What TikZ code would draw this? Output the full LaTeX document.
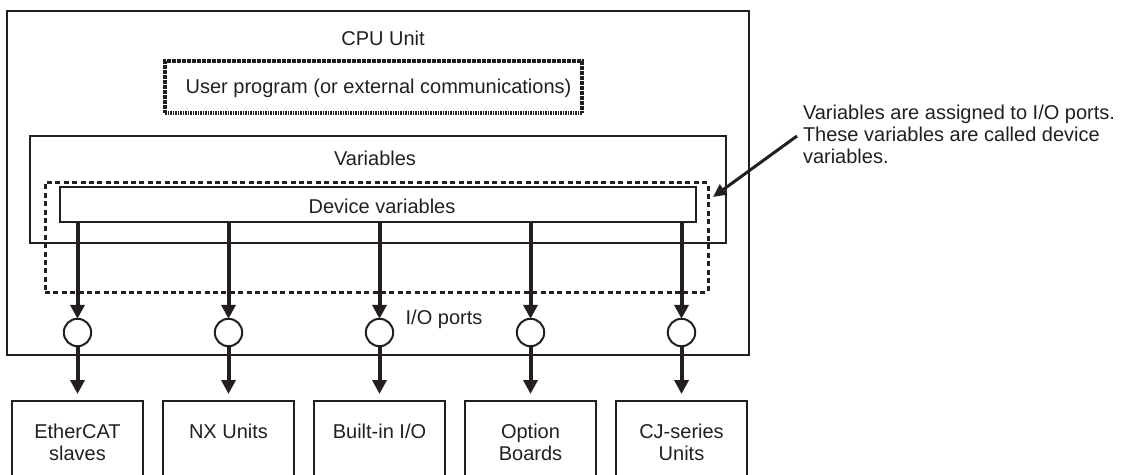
\documentclass[tikz,border=0pt]{standalone}
\usepackage{fontspec}
\setmainfont{Liberation Sans}
\usetikzlibrary{arrows.meta,calc}
\definecolor{ink}{HTML}{231F20}
\begin{document}
\begin{tikzpicture}[x=0.5pt,y=-0.5pt,
  every node/.style={font=\fontsize{10pt}{11pt}\selectfont, text=ink, inner sep=0pt, outer sep=0pt},
  frame/.style={draw=ink, line width=1pt, rectangle},
  thinframe/.style={draw=ink, line width=0.65pt, rectangle},
  dotbox/.style={draw=ink, line width=1.6pt, dash pattern=on 0.8pt off 0.45pt, rectangle},
  dashbox/.style={draw=ink, line width=1.5pt, dash pattern=on 2.5pt off 1.7pt, rectangle},
  port/.style={circle, draw=ink, line width=1pt, minimum size=13.7pt},
  unitbox/.style={draw=ink, line width=0.9pt, minimum width=65.5pt, minimum height=50pt, anchor=north, rectangle},
  unittxt/.style={align=center, anchor=north},
  flow/.style={draw=ink, line width=2pt, -{Triangle[width=7pt,length=7pt]}},
  note/.style={draw=ink, line width=1.5pt, -{Triangle[width=6pt,length=6.5pt]}},
  lbl/.style={anchor=base}
]
\useasboundingbox (0,0) rectangle (1127,475);

% CPU unit frame and titles
\node[frame, minimum width=371pt, minimum height=172pt] (cpu) at (378,183) {};
\node[lbl] (cputxt) at (383,46) {CPU Unit};

\node[dotbox, minimum width=208.5pt, minimum height=26pt] (prog) at (373.5,87) {};
\node[lbl] (progtxt) at (378.5,94) {User program (or external communications)};

\node[thinframe, minimum width=348pt, minimum height=53.5pt] (vars) at (378,189.5) {};
\node[lbl] (varstxt) at (375,166) {Variables};

\node[dashbox, minimum width=331.5pt, minimum height=54.5pt] (io) at (376.5,237.5) {};

\node[thinframe, minimum width=318pt, minimum height=17.5pt] (dv) at (378,204.5) {};
\node[lbl] (dvtxt) at (382,214) {Device variables};

\node[lbl] (iotxt) at (444,324) {I/O ports};

% ports, target units and connectors
\foreach \i/\x in {1/77.5, 2/228.5, 3/379.5, 4/530.5, 5/681.5} {
  \node[port] (c\i) at (\x,332.5) {};
  \node[unitbox] (b\i) at (\x,401) {};
  \draw[flow] (c\i |- dv.south) -- (c\i.north);
  \draw[flow, shorten >=3.5pt] (c\i.south) -- (b\i.north);
}
\node[unittxt] (t1) at (77.5,424.5) {EtherCAT\\slaves};
\node[unittxt] (t2) at (228.5,424.5) {NX Units};
\node[unittxt] (t3) at (379.5,424.5) {Built-in I/O};
\node[unittxt] (t4) at (530.5,424.5) {Option\\Boards};
\node[unittxt] (t5) at (681.5,424.5) {CJ-series\\Units};

% annotation
\node[anchor=north west, align=left] (ann) at (803,105.5) {Variables are assigned to I/O ports.\\These variables are called device\\variables.};
\coordinate (annfrom) at (797,136);
\coordinate (annto) at (713,197);
\draw[note] (annfrom) -- (annto);
\end{tikzpicture}
\end{document}
